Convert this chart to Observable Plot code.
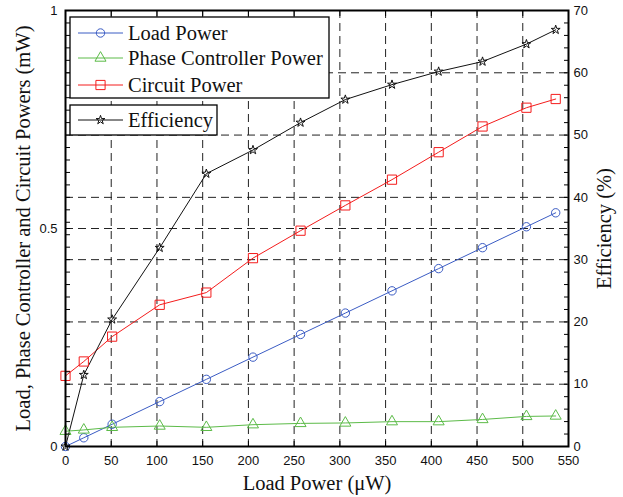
<!DOCTYPE html>
<html>
<head>
<meta charset="utf-8">
<script src="https://cdn.jsdelivr.net/npm/d3@7"></script>
<script src="https://cdn.jsdelivr.net/npm/@observablehq/plot@0.6"></script>
<style>
  body { margin: 0; background: #fff; }
  #chart svg { display: block; }
</style>
</head>
<body>
<div id="chart"></div>
<script>
// Measured operating points of the harvester
const loadPowerUW   = [0, 20, 51, 103, 154, 205, 257, 306, 357, 408, 456, 504, 536];          // x, µW
const loadPower     = [0, 0.020, 0.051, 0.103, 0.154, 0.205, 0.257, 0.306, 0.357, 0.408, 0.456, 0.504, 0.536]; // mW
const phasePower    = [0.035, 0.038, 0.044, 0.047, 0.044, 0.050, 0.053, 0.054, 0.057, 0.057, 0.062, 0.069, 0.070]; // mW
const circuitPower  = [0.162, 0.195, 0.252, 0.325, 0.353, 0.432, 0.495, 0.553, 0.612, 0.675, 0.734, 0.777, 0.797]; // mW
const efficiency    = [0, 11.5, 20.4, 31.9, 43.8, 47.6, 52.0, 55.7, 58.1, 60.2, 61.8, 64.6, 66.9];  // %

// Axis ticks
const xTicks      = [0, 50, 100, 150, 200, 250, 300, 350, 400, 450, 500, 550];
const powerTicks  = [0, 0.5, 1];
const effTicks    = [0, 10, 20, 30, 40, 50, 60, 70];
const effMinor    = d3.range(0, 71, 2);
const effMax      = 70;

const seriesNames = ["Load Power", "Phase Controller Power", "Circuit Power", "Efficiency"];
const colors = { load: "#3b5cc4", phase: "#5cbb48", circuit: "#f41c1c", eff: "#111111" };

const rows = loadPowerUW.map((x, i) => ({
  x, load: loadPower[i], phase: phasePower[i], circuit: circuitPower[i], eff: efficiency[i]
}));

// efficiency shares the plot area with the mW scale (0–70 % ↔ 0–1 mW)
const effToY = v => v / effMax;

const serif = "'Liberation Serif', 'Times New Roman', serif";
const sans  = "'Liberation Sans', Arial, sans-serif";
const titleSize = 20.5;
const dash  = "8,5";

const chart = Plot.plot({
  width: 623,
  height: 497,
  marginLeft: 65,
  marginRight: 55,
  marginTop: 10,
  marginBottom: 51,
  style: { fontFamily: sans, fontSize: "13px", background: "#fff", color: "#000", overflow: "visible" },
  x: { domain: [0, 550] },
  y: { domain: [0, 1] },
  marks: [
    // dashed grid
    Plot.ruleX(xTicks.slice(1, -1), { stroke: "#222", strokeWidth: 1, strokeDasharray: dash }),
    Plot.ruleY(effTicks.slice(1, -1), { y: effToY, stroke: "#222", strokeWidth: 1, strokeDasharray: dash }),
    Plot.ruleY([0.5], { stroke: "#222", strokeWidth: 1, strokeDasharray: dash }),

    // series
    Plot.line(rows, { x: "x", y: "load", stroke: colors.load, strokeWidth: 1 }),
    Plot.line(rows, { x: "x", y: "phase", stroke: colors.phase, strokeWidth: 1 }),
    Plot.line(rows, { x: "x", y: "circuit", stroke: colors.circuit, strokeWidth: 1 }),
    Plot.line(rows, { x: "x", y: d => effToY(d.eff), stroke: colors.eff, strokeWidth: 1 }),
    Plot.dot(rows, { x: "x", y: "load", symbol: "circle", r: 4.2, stroke: colors.load, fill: "none", strokeWidth: 1 }),
    Plot.dot(rows, { x: "x", y: "phase", symbol: "triangle", r: 4.1, stroke: colors.phase, fill: "none", strokeWidth: 1 }),
    Plot.dot(rows, { x: "x", y: "circuit", symbol: "square", r: 5.2, stroke: colors.circuit, fill: "none", strokeWidth: 1 }),
    Plot.dot(rows, { x: "x", y: d => effToY(d.eff), symbol: "star", r: 2.8, stroke: colors.eff, fill: "none", strokeWidth: 1 }),

    // inward tick marks
    Plot.axisX(xTicks, { anchor: "bottom", tickSize: 5, dy: -5, fill: "none", label: null, stroke: "#000" }),
    Plot.axisX(xTicks, { anchor: "top", tickSize: 5, dy: 5, fill: "none", label: null, stroke: "#000" }),
    Plot.axisY(effMinor.map(effToY).concat(powerTicks), { anchor: "left", tickSize: 5, dx: 5, fill: "none", label: null, stroke: "#000" }),
    Plot.axisY(effMinor.map(effToY), { anchor: "right", tickSize: 5, dx: -5, fill: "none", label: null, stroke: "#000" }),

    // tick labels
    Plot.axisX(xTicks, { anchor: "bottom", tickSize: 0, tickPadding: 9, label: null, fill: "#111", fontSize: 13 }),
    Plot.axisY(powerTicks, { anchor: "left", tickSize: 0, tickPadding: 8, label: null, fill: "#111", fontSize: 13,
      tickFormat: d => d === 0 ? "0" : d === 1 ? "1" : d3.format(".1f")(d) }),
    Plot.axisY(effTicks.map(effToY), { anchor: "right", tickSize: 0, tickPadding: 5, label: null, fill: "#111", fontSize: 13,
      tickFormat: d => String(Math.round(d * effMax)) }),

    // axis titles
    Plot.text(["Load Power (\u03bcW)"], { frameAnchor: "bottom", dy: 37, textAnchor: "middle", lineAnchor: "middle",
      fontFamily: serif, fontSize: titleSize, fill: "#111" }),
    Plot.text(["Load, Phase Controller and Circuit Powers (mW)"], { frameAnchor: "left", dx: -42, rotate: -90,
      textAnchor: "middle", lineAnchor: "middle", fontFamily: serif, fontSize: titleSize, fill: "#111" }),
    Plot.text(["Efficiency (%)"], { frameAnchor: "right", dx: 36, rotate: -90,
      textAnchor: "middle", lineAnchor: "middle", fontFamily: serif, fontSize: titleSize, fill: "#111" }),

    Plot.frame({ stroke: "#000", strokeWidth: 2 })
  ]
});

// Legends: two boxed groups in the upper-left corner of the plot area
const svg = d3.select(chart);
const legendGroups = [
  { box: [70, 17, 259, 81], items: [
      { name: seriesNames[0], color: colors.load, symbol: d3.symbolCircle, size: Math.PI * 4.2 * 4.2, y: 33 },
      { name: seriesNames[1], color: colors.phase, symbol: d3.symbolTriangle, size: Math.PI * 4.1 * 4.1, y: 58 },
      { name: seriesNames[2], color: colors.circuit, symbol: d3.symbolSquare, size: Math.PI * 5.2 * 5.2, y: 85 }
  ]},
  { box: [70, 105, 147, 30], items: [
      { name: seriesNames[3], color: colors.eff, symbol: d3.symbolStar, size: Math.PI * 2.8 * 2.8, y: 120 }
  ]}
];
const lg = svg.append("g").attr("class", "legend").attr("text-anchor", "start");
for (const grp of legendGroups) {
  const [bx, by, bw, bh] = grp.box;
  lg.append("rect").attr("x", bx).attr("y", by).attr("width", bw).attr("height", bh)
    .attr("fill", "#fff").attr("stroke", "#000").attr("stroke-width", 1.3);
  for (const it of grp.items) {
    lg.append("line").attr("x1", 78).attr("x2", 123).attr("y1", it.y).attr("y2", it.y)
      .attr("stroke", it.color).attr("stroke-width", 1);
    lg.append("path").attr("d", d3.symbol(it.symbol, it.size)())
      .attr("transform", `translate(100.5,${it.y})`)
      .attr("fill", "none").attr("stroke", it.color).attr("stroke-width", 1);
    lg.append("text").attr("x", 128).attr("y", it.y).attr("dy", "0.35em")
      .attr("text-anchor", "start")
      .attr("font-family", serif).attr("font-size", titleSize).attr("fill", "#111").text(it.name);
  }
}

document.getElementById("chart").appendChild(chart);
</script>
</body>
</html>
